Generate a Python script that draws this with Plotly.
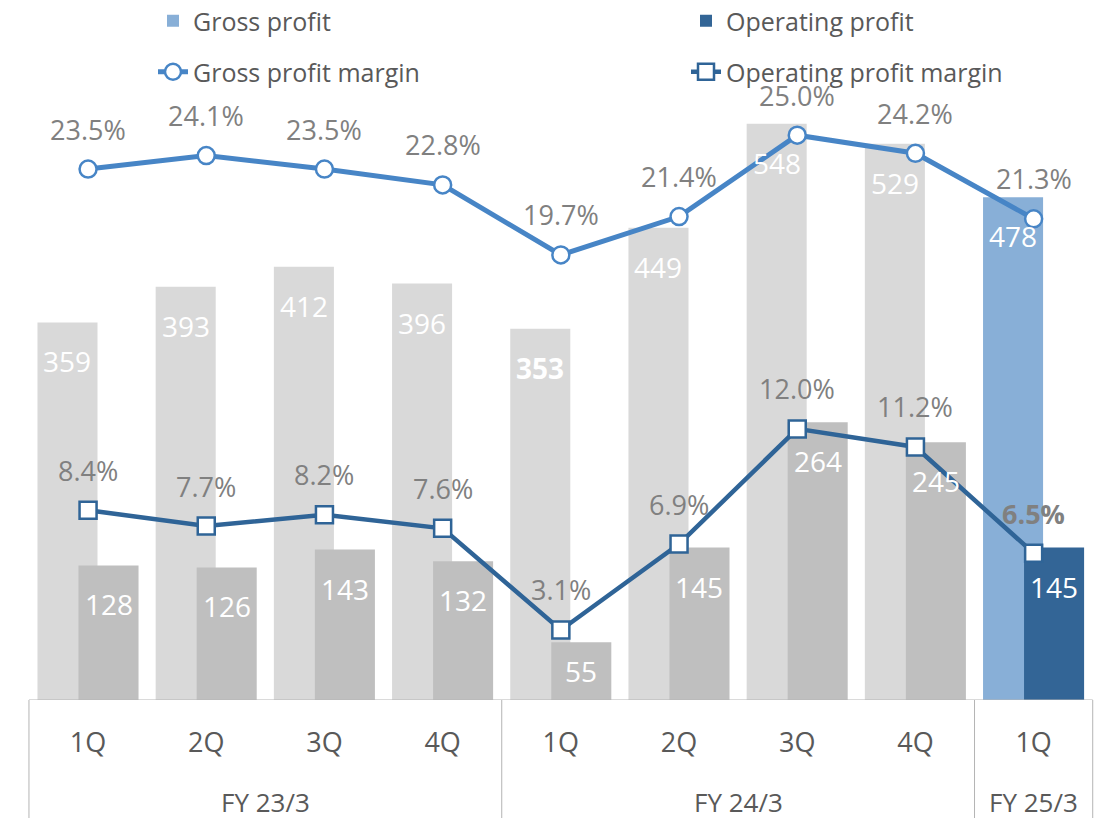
import plotly.graph_objects as go

# ---------------- data ----------------
quarters = ["1Q", "2Q", "3Q", "4Q", "1Q", "2Q", "3Q", "4Q", "1Q"]
fiscal_years = ["FY 23/3"] * 4 + ["FY 24/3"] * 4 + ["FY 25/3"]
gross_profit = [359, 393, 412, 396, 353, 449, 548, 529, 478]
operating_profit = [128, 126, 143, 132, 55, 145, 264, 245, 145]
gross_margin = [23.5, 24.1, 23.5, 22.8, 19.7, 21.4, 25.0, 24.2, 21.3]
operating_margin = [8.4, 7.7, 8.2, 7.6, 3.1, 6.9, 12.0, 11.2, 6.5]

# ---------------- style / layout constants ----------------
FONT = "Open Sans"
W, H = 1101, 822
M_T, M_B = 90, 122
PLOT_H = H - M_T - M_B
Y1_MAX, Y2_MAX = 580, 27
X_RANGE = [-0.745, 8.570]
BAR_W = 0.508
OFF_G = -0.428
OFF_O = -0.081
PX_PER_UNIT = PLOT_H / Y1_MAX

C_GRAY_G = "#d9d9d9"
C_GRAY_O = "#bfbfbf"
C_BLUE_G = "#88afd7"
C_BLUE_O = "#336596"
C_LINE_G = "#4785c6"
C_LINE_O = "#2f6497"
C_LABEL = "#808080"
C_AXIS = "#595959"
C_RULE = "#b4b4b4"

# emphasised labels in the source (bold)
BOLD_GROSS = {4}
BOLD_OPM = {8}

idx = list(range(len(quarters)))
latest = fiscal_years[-1]
past_idx = [i for i in idx if fiscal_years[i] != latest]
last_idx = [i for i in idx if fiscal_years[i] == latest]

fig = go.Figure()


def bar(ids, values, color, name, offset, show, legend):
    return go.Bar(
        x=ids, y=[values[i] for i in ids], name=name, width=BAR_W, offset=offset,
        marker=dict(color=color, line=dict(width=0)), showlegend=show,
        legend=legend, hoverinfo="skip",
    )


fig.add_trace(bar(past_idx, gross_profit, C_GRAY_G, "Gross profit", OFF_G, False, "legend"))
fig.add_trace(bar(last_idx, gross_profit, C_BLUE_G, "Gross profit", OFF_G, True, "legend"))
fig.add_trace(bar(past_idx, operating_profit, C_GRAY_O, "Operating profit", OFF_O, False, "legend2"))
fig.add_trace(bar(last_idx, operating_profit, C_BLUE_O, "Operating profit", OFF_O, True, "legend2"))

fig.add_trace(go.Scatter(
    x=idx, y=gross_margin, yaxis="y2", mode="lines+markers", name="Gross profit margin",
    line=dict(color=C_LINE_G, width=5),
    marker=dict(symbol="circle", size=17, color="white", line=dict(color=C_LINE_G, width=2.5)),
    legend="legend3", hoverinfo="skip",
))
fig.add_trace(go.Scatter(
    x=idx, y=operating_margin, yaxis="y2", mode="lines+markers", name="Operating profit margin",
    line=dict(color=C_LINE_O, width=4.5),
    marker=dict(symbol="square", size=17, color="white", line=dict(color=C_LINE_O, width=2.5)),
    legend="legend4", hoverinfo="skip",
))

annotations = []
# bar value labels (inside, near top)
for series, off, bold in ((gross_profit, OFF_G, BOLD_GROSS), (operating_profit, OFF_O, set())):
    for i, v in enumerate(series):
        y_lab = max(v - 39 / PX_PER_UNIT, v / 2)
        txt = f"<b>{v}</b>" if i in bold else f"{v}"
        annotations.append(dict(
            x=i + off + BAR_W / 2, y=y_lab, xref="x", yref="y", text=txt, showarrow=False,
            xanchor="center", yanchor="middle",
            font=dict(family=FONT, size=28, color="white"),
        ))
# margin labels above markers
for series, bold in ((gross_margin, set()), (operating_margin, BOLD_OPM)):
    for i, v in enumerate(series):
        txt = f"{v:.1f}%"
        if i in bold:
            txt = f"<b>{txt}</b>"
        annotations.append(dict(
            x=i, y=v, xref="x", yref="y2", text=txt, showarrow=False,
            xanchor="center", yanchor="middle", yshift=40,
            font=dict(family=FONT, size=27, color=C_LABEL),
        ))
# fiscal-year group labels
groups = []
for i, fy in enumerate(fiscal_years):
    if not groups or groups[-1][0] != fy:
        groups.append([fy, []])
    groups[-1][1].append(i)
for fy, members in groups:
    annotations.append(dict(
        x=sum(members) / len(members), y=-(102 / PLOT_H), xref="x", yref="paper",
        text=fy, showarrow=False, xanchor="center", yanchor="middle",
        font=dict(family=FONT, size=26, color=C_AXIS),
    ))

# axis line and group dividers
shapes = [dict(type="line", xref="x", yref="y", x0=-0.5, x1=len(idx) - 0.5, y0=0, y1=0,
               line=dict(color=C_RULE, width=1))]
bounds = [-0.5] + [i + 0.5 for i in range(len(idx) - 1) if fiscal_years[i] != fiscal_years[i + 1]] + [len(idx) - 0.5]
for b in bounds:
    shapes.append(dict(type="line", xref="x", yref="paper", x0=b, x1=b, y0=0, y1=-(118 / PLOT_H),
                       line=dict(color=C_RULE, width=1)))


def leg(xpx, ypx):
    return dict(x=xpx / W, y=1 - ypx / H, xref="container", yref="container",
                xanchor="left", yanchor="middle", orientation="h",
                font=dict(family=FONT, size=25, color=C_AXIS),
                bgcolor="rgba(0,0,0,0)", borderwidth=0)


fig.update_layout(
    width=W, height=H,
    margin=dict(l=0, r=0, t=M_T, b=M_B, autoexpand=False),
    paper_bgcolor="white", plot_bgcolor="white",
    barmode="overlay",
    font=dict(family=FONT, color=C_AXIS),
    xaxis=dict(range=X_RANGE, tickmode="array", tickvals=idx, ticktext=quarters,
               showgrid=False, zeroline=False, showline=False, ticks="",
               tickfont=dict(family=FONT, size=27, color=C_AXIS), ticklabelstandoff=24,
               fixedrange=True),
    yaxis=dict(range=[0, Y1_MAX], visible=False, fixedrange=True),
    yaxis2=dict(range=[0, Y2_MAX], overlaying="y", visible=False, fixedrange=True),
    legend=leg(153, 21), legend2=leg(686, 21), legend3=leg(153, 72), legend4=leg(686, 72),
    annotations=annotations, shapes=shapes,
)

fig.write_html("out.html", config={"displayModeBar": False},
               post_script="document.body.style.margin='0';")
